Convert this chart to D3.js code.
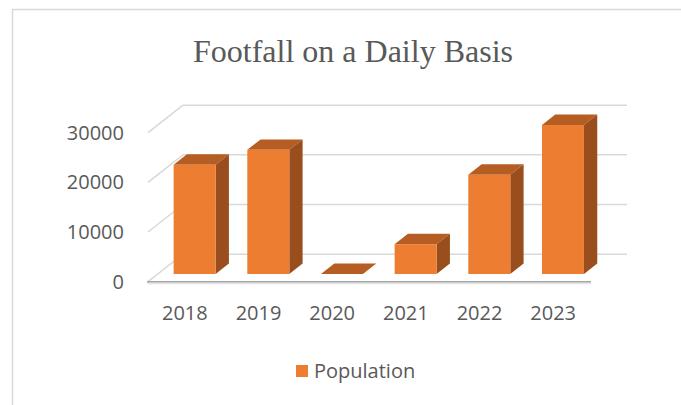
<!DOCTYPE html>
<html>
<head>
<meta charset="utf-8">
<script src="https://cdn.jsdelivr.net/npm/d3@7"></script>
<style>
  body { margin: 0; background: #fff; }
  svg { display: block; }
</style>
</head>
<body>
<svg id="chart" width="681" height="405"></svg>
<script>
var years = ["2018", "2019", "2020", "2021", "2022", "2023"]
var population = [22000, 25000, 0, 6000, 20000, 30000]
var yTicks = [0, 10000, 20000, 30000]
var seriesName = "Population"

var svg = d3.select("#chart")

// chart frame (right/bottom edges are cropped off)
svg.append("rect")
    .attr("x", 12.5).attr("y", 9.5)
    .attr("width", 700).attr("height", 420)
    .style("fill", "none")
    .style("stroke", "#d9d9d9")
    .style("stroke-width", "1.5px")

svg.append("text")
    .attr("x", 353).attr("y", 62)
    .attr("text-anchor", "middle")
    .style("font-family", "'Liberation Serif', 'Times New Roman', serif")
    .style("font-size", "32px")
    .style("fill", "#595959")
    .text("Footfall on a Daily Basis")

// front plane scales, plus an oblique depth offset
var x = d3.scaleBand().domain(years).range([148, 590])
    .paddingInner(0.43).paddingOuter(0.215)
var y = d3.scaleLinear().domain([0, 30000]).range([281.7, 132.7])
var dx = 35, dy = -27.5

function px(xv, depth) { return xv + depth * dx }
function py(v, depth) { return y(v) + depth * dy }

var grid = svg.append("g").attr("class", "grid")

// back wall gridlines
grid.selectAll("line.back")
    .data(yTicks)
    .join("line")
    .classed("back", true)
    .attr("x1", px(148, 1)).attr("x2", px(592, 1))
    .attr("y1", d => py(d, 1)).attr("y2", d => py(d, 1))
    .style("stroke", "#d9d9d9")
    .style("stroke-width", "1.5px")

// side wall diagonals
grid.selectAll("line.side")
    .data(yTicks)
    .join("line")
    .classed("side", true)
    .attr("x1", px(148, 0)).attr("y1", d => py(d, 0))
    .attr("x2", px(148, 1)).attr("y2", d => py(d, 1))
    .style("stroke", "#d9d9d9")
    .style("stroke-width", "1.5px")

// floor front edge
grid.append("line")
    .attr("x1", 147).attr("x2", 591)
    .attr("y1", y(0) + 1.5).attr("y2", y(0) + 1.5)
    .style("stroke", "#e6e6e6")
    .style("stroke-width", "2px")
grid.append("line")
    .attr("x1", 147).attr("x2", 591)
    .attr("y1", y(0)).attr("y2", y(0))
    .style("stroke", "#a6a6a6")
    .style("stroke-width", "1.5px")

// bars: front face at depth f0, back at f1
var f0 = 0.28, f1 = 0.66
var bars = svg.append("g").attr("class", "bars")
    .selectAll("g.bar")
    .data(years.map((yr, i) => ({ year: yr, value: population[i] })))
    .join("g")
    .classed("bar", true)

bars.append("path")
    .style("fill", "#b55d23")
    .attr("d", d => {
        var a = x(d.year), b = x(d.year) + x.bandwidth()
        return "M" + px(a, f0) + "," + py(d.value, f0) +
            "L" + px(b, f0) + "," + py(d.value, f0) +
            "L" + px(b, f1) + "," + py(d.value, f1) +
            "L" + px(a, f1) + "," + py(d.value, f1) + "Z"
    })

bars.append("path")
    .style("fill", "#9a4e1e")
    .attr("d", d => {
        var b = x(d.year) + x.bandwidth()
        return "M" + px(b, f0) + "," + py(0, f0) +
            "L" + px(b, f0) + "," + py(d.value, f0) +
            "L" + px(b, f1) + "," + py(d.value, f1) +
            "L" + px(b, f1) + "," + py(0, f1) + "Z"
    })

bars.append("rect")
    .style("fill", "#ed7d31")
    .attr("x", d => px(x(d.year), f0))
    .attr("y", d => py(d.value, f0))
    .attr("width", x.bandwidth())
    .attr("height", d => y(0) - y(d.value))

// axis labels
var labelFont = "'Open Sans', 'Noto Sans', sans-serif"

svg.append("g").selectAll("text")
    .data(yTicks)
    .join("text")
    .attr("x", 124)
    .attr("y", d => y(d) + 7)
    .attr("text-anchor", "end")
    .style("font-family", labelFont)
    .style("font-size", "20px")
    .style("fill", "#595959")
    .text(d => d)

svg.append("g").selectAll("text")
    .data(years)
    .join("text")
    .attr("x", d => x(d) + x.bandwidth() / 2)
    .attr("y", 320)
    .attr("text-anchor", "middle")
    .style("font-family", labelFont)
    .style("font-size", "20px")
    .style("fill", "#595959")
    .text(d => d)

// legend
svg.append("rect")
    .attr("x", 296).attr("y", 365)
    .attr("width", 12).attr("height", 12)
    .style("fill", "#ed7d31")

svg.append("text")
    .attr("x", 314).attr("y", 378)
    .style("font-family", labelFont)
    .style("font-size", "20px")
    .style("fill", "#595959")
    .text(seriesName)
</script>
</body>
</html>
